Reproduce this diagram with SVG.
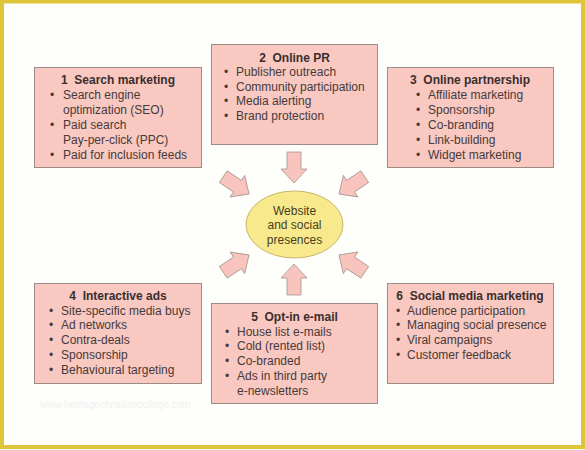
<svg xmlns="http://www.w3.org/2000/svg" width="585" height="450" viewBox="0 0 585 450">
<defs>
<style>
.frame{fill:#fefefb;stroke:#dfc53a;stroke-width:4}
.box{fill:#f9c8c1;stroke:#9b8c88;stroke-width:1}
.arr{fill:#f9c4bd;stroke:#a39592;stroke-width:0.8}
.t{font-family:"Liberation Sans",Arial,sans-serif;font-size:12px;fill:#463a3a}
.h{font-family:"Liberation Sans",Arial,sans-serif;font-size:12px;font-weight:bold;fill:#3a2e2e;text-anchor:middle}
.ell{fill:#f8ea8c;stroke:#c9b66a;stroke-width:1}
.et{font-family:"Liberation Sans",Arial,sans-serif;font-size:12px;fill:#4a3d22;text-anchor:middle}
.wm{font-family:"Liberation Sans",Arial,sans-serif;font-size:10px;fill:#f1f1f1}
</style>
<polygon id="arrowShape" points="0,0 -13,-14 -7,-14 -7,-31 7,-31 7,-14 13,-14"/>
</defs>
<rect class="frame" x="2" y="1.5" width="581" height="445.5"/>
<g id="connectors">
<use href="#arrowShape" class="arr" transform="translate(294,183)"/>
<use href="#arrowShape" class="arr" transform="translate(294,264) rotate(180)"/>
<use href="#arrowShape" class="arr" transform="translate(249,194) rotate(-56)"/>
<use href="#arrowShape" class="arr" transform="translate(339,194) rotate(56)"/>
<use href="#arrowShape" class="arr" transform="translate(249,255) rotate(-124)"/>
<use href="#arrowShape" class="arr" transform="translate(339,255) rotate(124)"/>
</g>
<g id="center">
<ellipse class="ell" cx="294.5" cy="224.5" rx="48.5" ry="33.5"/>
<text class="et" x="294.5" y="215">Website</text>
<text class="et" x="294.5" y="229">and social</text>
<text class="et" x="294.5" y="244">presences</text>
</g>
<g id="node1">
<rect class="box" x="34.5" y="67.5" width="167" height="100"/>
<text class="h" x="118" y="84" xml:space="preserve">1  Search marketing</text>
<g class="t">
<text x="50" y="99">•</text><text x="63" y="99">Search engine</text>
<text x="63" y="114">optimization (SEO)</text>
<text x="50" y="129">•</text><text x="63" y="129">Paid search</text>
<text x="63" y="144">Pay-per-click (PPC)</text>
<text x="50" y="159">•</text><text x="63" y="159">Paid for inclusion feeds</text>
</g>
</g>
<g id="node2">
<rect class="box" x="211.5" y="44.5" width="166" height="100"/>
<text class="h" x="294.5" y="62" xml:space="preserve">2  Online PR</text>
<g class="t">
<text x="224" y="76">•</text><text x="236" y="76">Publisher outreach</text>
<text x="224" y="91">•</text><text x="236" y="91">Community participation</text>
<text x="224" y="105">•</text><text x="236" y="105">Media alerting</text>
<text x="224" y="120">•</text><text x="236" y="120">Brand protection</text>
</g>
</g>
<g id="node3">
<rect class="box" x="387.5" y="67.5" width="166" height="100"/>
<text class="h" x="470" y="84" xml:space="preserve">3  Online partnership</text>
<g class="t">
<text x="416" y="99">•</text><text x="428" y="99">Affiliate marketing</text>
<text x="416" y="114">•</text><text x="428" y="114">Sponsorship</text>
<text x="416" y="129">•</text><text x="428" y="129">Co-branding</text>
<text x="416" y="144">•</text><text x="428" y="144">Link-building</text>
<text x="416" y="159">•</text><text x="428" y="159">Widget marketing</text>
</g>
</g>
<g id="node4">
<rect class="box" x="34.5" y="283.5" width="167" height="100"/>
<text class="h" x="118" y="300" xml:space="preserve">4  Interactive ads</text>
<g class="t">
<text x="49" y="315">•</text><text x="61" y="315">Site-specific media buys</text>
<text x="49" y="329">•</text><text x="61" y="329">Ad networks</text>
<text x="49" y="344">•</text><text x="61" y="344">Contra-deals</text>
<text x="49" y="359">•</text><text x="61" y="359">Sponsorship</text>
<text x="49" y="374">•</text><text x="61" y="374">Behavioural targeting</text>
</g>
</g>
<g id="node5">
<rect class="box" x="211.5" y="303.5" width="166" height="100"/>
<text class="h" x="294.5" y="321" xml:space="preserve">5  Opt-in e-mail</text>
<g class="t">
<text x="225" y="336">•</text><text x="237" y="336">House list e-mails</text>
<text x="225" y="350">•</text><text x="237" y="350">Cold (rented list)</text>
<text x="225" y="365">•</text><text x="237" y="365">Co-branded</text>
<text x="225" y="380">•</text><text x="237" y="380">Ads in third party</text>
<text x="237" y="395">e-newsletters</text>
</g>
</g>
<g id="node6">
<rect class="box" x="387.5" y="283.5" width="166" height="100"/>
<text class="h" x="470" y="300" xml:space="preserve">6  Social media marketing</text>
<g class="t">
<text x="396" y="315">•</text><text x="407" y="315">Audience participation</text>
<text x="396" y="329">•</text><text x="407" y="329">Managing social presence</text>
<text x="396" y="344">•</text><text x="407" y="344">Viral campaigns</text>
<text x="396" y="359">•</text><text x="407" y="359">Customer feedback</text>
</g>
</g>
<text class="wm" x="40" y="408">www.heritagechristiancollege.com</text>
</svg>
